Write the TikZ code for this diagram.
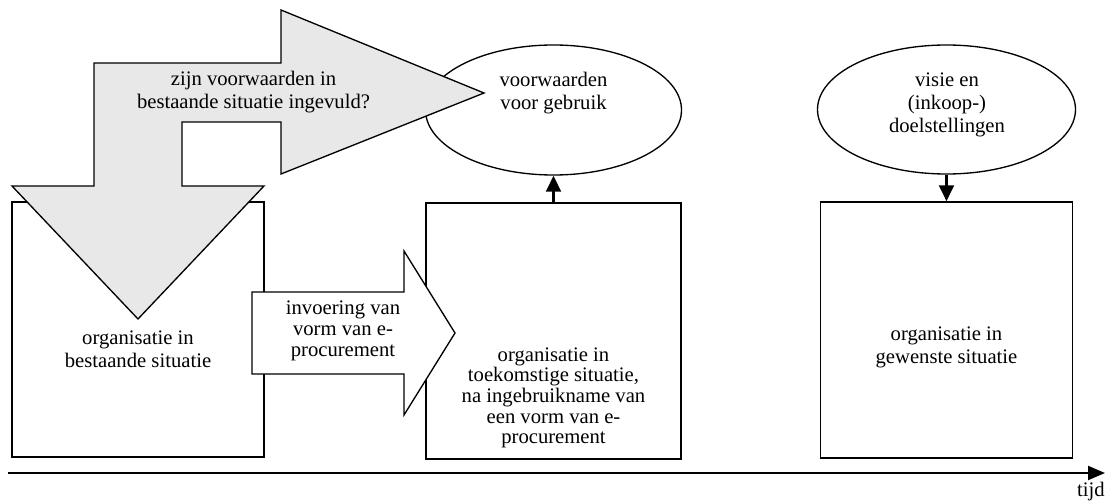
\documentclass[tikz,border=0pt]{standalone}
\usepackage{fontspec}
\setmainfont{Liberation Serif}
\usetikzlibrary{arrows.meta,shapes.geometric}
\definecolor{arrowgray}{RGB}{232,232,232}
\begin{document}
\begin{tikzpicture}[x=0.75pt,y=-0.75pt,
  stagebox/.style={draw, line width=1.1pt, rectangle, inner sep=0pt, fill=white},
  goal/.style={draw, line width=1pt, ellipse, inner sep=0pt, fill=white},
  txt/.style={align=center, inner sep=0pt, font=\fontsize{15.5}{17.2}\selectfont},
  bigarrow/.style={draw, line width=1pt, fill=arrowgray, line join=miter},
  smallarrow/.style={draw, line width=1pt, fill=white, line join=miter},
  link/.style={line width=2.2pt, -{Triangle[length=12pt,width=11pt]}},
  axis/.style={line width=1.6pt, -{Triangle[length=12.75pt,width=10.5pt]}}]
\useasboundingbox (0,0) rectangle (1106,502);

% stages of the organisation
\node[stagebox, minimum width=189pt, minimum height=191.25pt] (b1) at (138,329.5) {};
\node[stagebox, minimum width=191.25pt, minimum height=192pt] (b2) at (553.5,331) {};
\node[stagebox, minimum width=189pt, minimum height=192pt] (b3) at (946.5,330) {};

% conditions and goals
\node[goal, minimum width=192pt, minimum height=97.5pt] (e1) at (553.5,110) {};
\node[goal, minimum width=193.5pt, minimum height=96.75pt] (e2) at (946.5,109.5) {};

% connectors between goals and stages
\draw[link] (b2.north) -- (e1.south);
\draw[link] (e2.south) -- (b3.north);

% bent question arrow
\draw[bigarrow] (94,63) -- (281,63) -- (281,10) -- (484,93) -- (281,174) -- (281,122)
  -- (182,122) -- (182,186) -- (264,186) -- (138,319) -- (12,186) -- (94,186) -- cycle;

% introduction arrow
\draw[smallarrow] (252,292) -- (404,292) -- (404,251) -- (455,333) -- (404,415)
  -- (404,374) -- (252,374) -- cycle;

% texts
\node[txt] (tq) at (253.5,92.5) {zijn voorwaarden in\\bestaande situatie ingevuld?};
\node[txt] (te1) at (553.5,93.5) {voorwaarden\\voor gebruik};
\node[txt] (te2) at (947,105) {visie en\\(inkoop-)\\doelstellingen};
\node[txt] (tb1) at (138,349) {organisatie in\\bestaande situatie};
\node[txt, font=\fontsize{15.5}{15.5}\selectfont] (tb2) at (553.5,398) {organisatie in\\toekomstige situatie,\\na ingebruikname van\\een vorm van e-\\procurement};
\node[txt] (tb3) at (946.5,347) {organisatie in\\gewenste situatie};
\node[txt, font=\fontsize{15.5}{15.7}\selectfont] (ti) at (343,331) {invoering van\\vorm van e-\\procurement};

% time axis
\coordinate (t0) at (8,473);
\coordinate (t1) at (1105,473);
\draw[axis] (t0) -- (t1);
\node[txt] (tijd) at (1091,492) {tijd};
\end{tikzpicture}
\end{document}
